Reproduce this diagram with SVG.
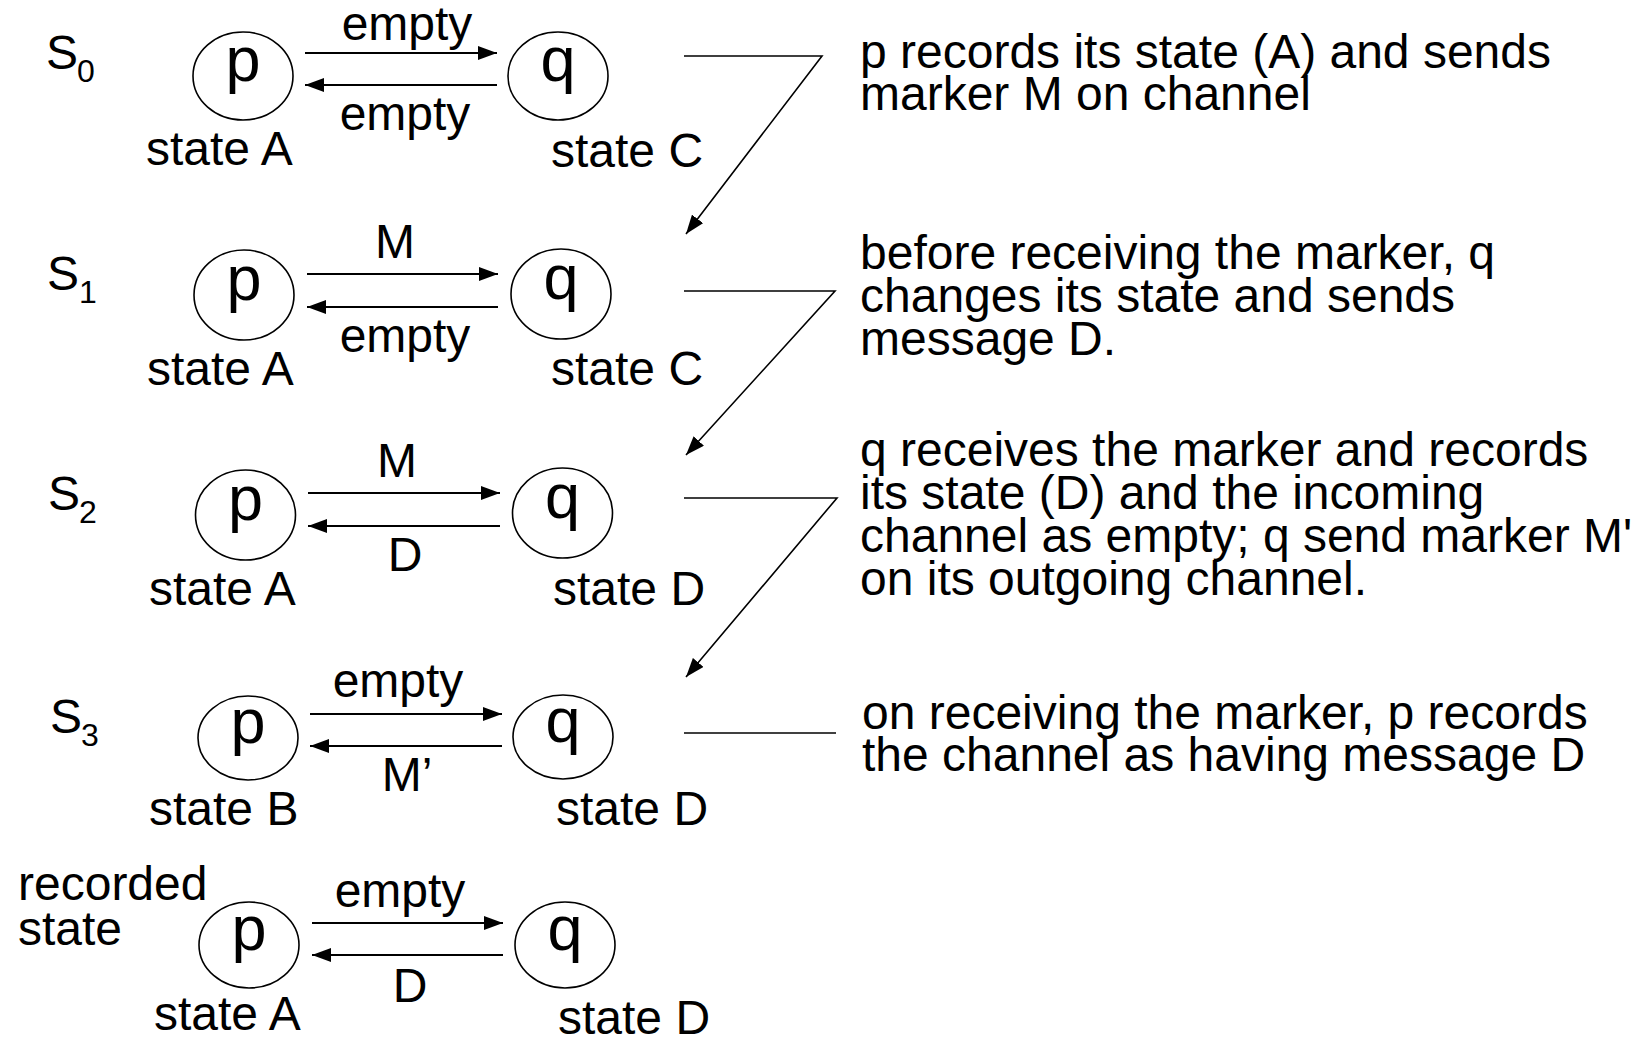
<svg xmlns="http://www.w3.org/2000/svg" width="1640" height="1037" viewBox="0 0 1640 1037">
<defs>
<marker id="ah" markerUnits="userSpaceOnUse" markerWidth="20" markerHeight="14" refX="19" refY="7" orient="auto">
<path d="M0,0 L19,7 L0,14 z" fill="#000"/>
</marker>
<style>
text{font-family:"Liberation Sans",Arial,sans-serif;font-size:48px;fill:#000}
.sub{font-size:32px}
.mid{text-anchor:middle}
.node text{font-size:63px;text-anchor:middle}
.node ellipse{fill:#fff;stroke:#000;stroke-width:1.6}
.ch{stroke:#000;stroke-width:2;fill:none;marker-end:url(#ah)}
.conn{stroke:#000;stroke-width:1.6;fill:none}
</style>
</defs>
<g id="labels">
<text x="46" y="69">S</text><text class="sub" x="77" y="82">0</text>
<text x="47" y="290">S</text><text class="sub" x="79" y="303">1</text>
<text x="48" y="510">S</text><text class="sub" x="79" y="523">2</text>
<text x="50" y="733">S</text><text class="sub" x="81" y="746">3</text>
<text x="18" y="900">recorded</text>
<text x="18" y="945">state</text>
</g>
<g id="row0">
<g id="p0" class="node"><ellipse cx="243" cy="76" rx="50" ry="44"/><text x="243" y="81">p</text></g>
<g id="q0" class="node"><ellipse cx="558" cy="76" rx="50" ry="44"/><text x="558" y="81">q</text></g>
<text class="mid" x="407" y="40">empty</text>
<text class="mid" x="405" y="130">empty</text>
<text x="146" y="165">state A</text>
<text x="551" y="167">state C</text>
</g>
<g id="row1">
<g id="p1" class="node"><ellipse cx="244" cy="295" rx="50" ry="45"/><text x="244" y="300">p</text></g>
<g id="q1" class="node"><ellipse cx="561" cy="294" rx="50" ry="45"/><text x="561" y="299">q</text></g>
<text class="mid" x="395" y="258">M</text>
<text class="mid" x="405" y="352">empty</text>
<text x="147" y="385">state A</text>
<text x="551" y="385">state C</text>
</g>
<g id="row2">
<g id="p2" class="node"><ellipse cx="245.5" cy="515" rx="50" ry="45"/><text x="245.5" y="520">p</text></g>
<g id="q2" class="node"><ellipse cx="562.5" cy="513" rx="50" ry="45"/><text x="562.5" y="518">q</text></g>
<text class="mid" x="397" y="477">M</text>
<text class="mid" x="405" y="571">D</text>
<text x="149" y="605">state A</text>
<text x="553" y="605">state D</text>
</g>
<g id="row3">
<g id="p3" class="node"><ellipse cx="248" cy="738" rx="50" ry="42"/><text x="248" y="743">p</text></g>
<g id="q3" class="node"><ellipse cx="563" cy="737" rx="50" ry="42"/><text x="563" y="742">q</text></g>
<text class="mid" x="398" y="697">empty</text>
<text class="mid" x="407" y="791">M’</text>
<text x="149" y="825">state B</text>
<text x="556" y="825">state D</text>
</g>
<g id="row4">
<g id="p4" class="node"><ellipse cx="249" cy="945" rx="50" ry="43"/><text x="249" y="950">p</text></g>
<g id="q4" class="node"><ellipse cx="565" cy="945" rx="50" ry="43"/><text x="565" y="950">q</text></g>
<text class="mid" x="400" y="907">empty</text>
<text class="mid" x="410" y="1002">D</text>
<text x="154" y="1030">state A</text>
<text x="558" y="1034">state D</text>
</g>
<g id="notes">
<text x="860" y="68">p records its state (A) and sends</text>
<text x="860" y="110">marker M on channel</text>
<text x="860" y="269">before receiving the marker, q</text>
<text x="860" y="312">changes its state and sends</text>
<text x="860" y="355">message D.</text>
<text x="860" y="466">q receives the marker and records</text>
<text x="860" y="509">its state (D) and the incoming</text>
<text x="860" y="552">channel as empty; q send marker M'</text>
<text x="860" y="595">on its outgoing channel.</text>
<text x="862" y="729">on receiving the marker, p records</text>
<text x="862" y="771">the channel as having message D</text>
</g>
<g id="connectors">
<line class="ch" x1="305" y1="53" x2="497" y2="53"/>
<line class="ch" x1="497" y1="85" x2="305" y2="85"/>
<line class="ch" x1="307" y1="274" x2="498" y2="274"/>
<line class="ch" x1="498" y1="307" x2="307" y2="307"/>
<line class="ch" x1="308" y1="493" x2="500" y2="493"/>
<line class="ch" x1="500" y1="526" x2="308" y2="526"/>
<line class="ch" x1="310" y1="714" x2="502" y2="714"/>
<line class="ch" x1="502" y1="746" x2="310" y2="746"/>
<line class="ch" x1="312" y1="923" x2="503" y2="923"/>
<line class="ch" x1="503" y1="955" x2="312" y2="955"/>
<polyline class="conn" points="684,56 822,56 686,234" style="marker-end:url(#ah)"/>
<polyline class="conn" points="684,291 835,291 686,455" style="marker-end:url(#ah)"/>
<polyline class="conn" points="684,498 837,498 686,677" style="marker-end:url(#ah)"/>
<line class="conn" x1="684" y1="733" x2="836" y2="733"/>
</g>
</svg>
